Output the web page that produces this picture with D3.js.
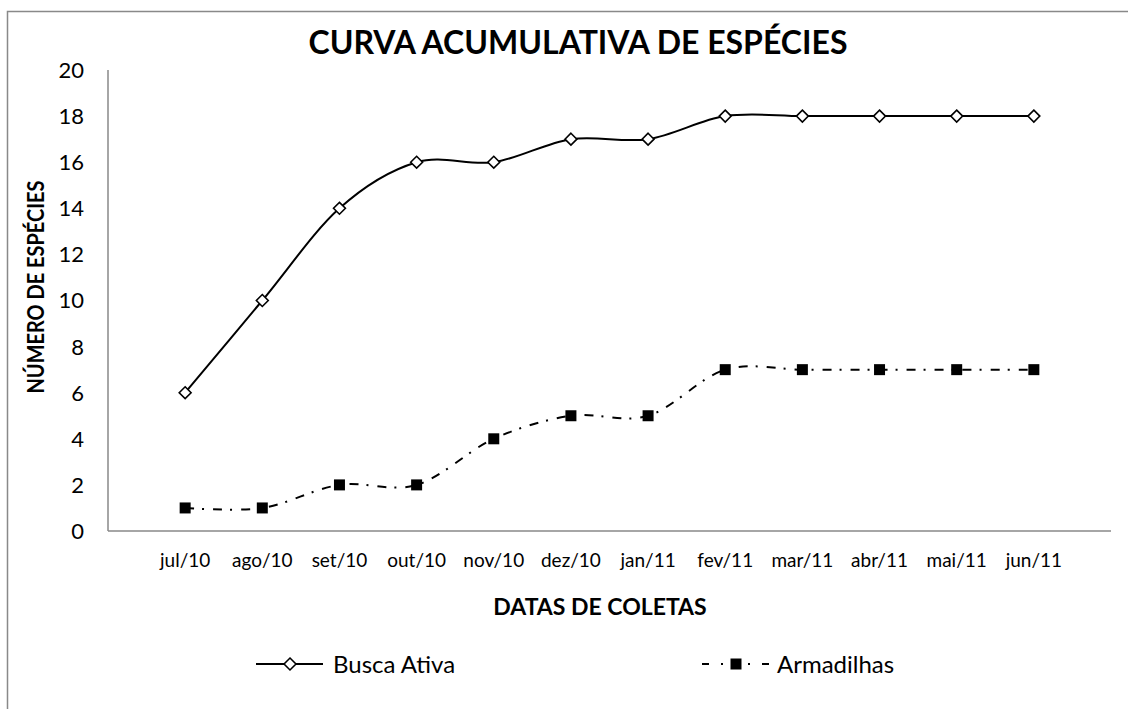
<!DOCTYPE html>
<html lang="pt">
<head>
    <meta charset="UTF-8">
    <title>Curva acumulativa de espécies</title>
    <script src="https://cdn.jsdelivr.net/npm/d3@7"></script>
    <style>
        body { margin: 0; background: #fff; }
        text { font-family: Lato, "Open Sans", sans-serif; fill: #000; }
    </style>
</head>
<body>
<div id="myDiv"></div>
<script>

    // data
    const months = ["jul/10", "ago/10", "set/10", "out/10", "nov/10", "dez/10",
                    "jan/11", "fev/11", "mar/11", "abr/11", "mai/11", "jun/11"];
    const buscaAtiva = [6, 10, 14, 16, 16, 17, 17, 18, 18, 18, 18, 18];
    const armadilhas = [1, 1, 2, 2, 4, 5, 5, 7, 7, 7, 7, 7];
    const yTicks = [0, 2, 4, 6, 8, 10, 12, 14, 16, 18, 20];

    const W = 1128, H = 709;
    const svg = d3.select("#myDiv").append("svg")
        .attr("width", W)
        .attr("height", H);

    // outer chart border (runs off the right / bottom edge)
    svg.append("rect")
        .attr("x", 7.5).attr("y", 11.5)
        .attr("width", W + 20).attr("height", H + 20)
        .attr("fill", "none")
        .attr("stroke", "#898989")
        .attr("stroke-width", 1.5);

    const plotLeft = 108, plotRight = 1111, plotTop = 70, plotBottom = 531;

    // categories sit between tick marks, one empty slot each side
    const x = d3.scaleLinear().domain([-1, months.length]).range([plotLeft, plotRight]);
    const y = d3.scaleLinear().domain([0, 20]).range([plotBottom, plotTop]);

    // axes
    svg.append("line")
        .attr("x1", plotLeft).attr("x2", plotLeft)
        .attr("y1", plotTop).attr("y2", plotBottom)
        .attr("stroke", "#898989").attr("stroke-width", 1.5);
    svg.append("line")
        .attr("x1", plotLeft).attr("x2", plotRight)
        .attr("y1", plotBottom).attr("y2", plotBottom)
        .attr("stroke", "#898989").attr("stroke-width", 1.5);

    svg.selectAll(".ytick")
        .data(yTicks)
        .enter()
        .append("text")
        .attr("class", "ytick")
        .attr("x", 84)
        .attr("y", d => y(d))
        .attr("dy", "0.36em")
        .attr("text-anchor", "end")
        .style("font-size", "22px")
        .text(d => d);

    svg.selectAll(".xtick")
        .data(months)
        .enter()
        .append("text")
        .attr("class", "xtick")
        .attr("x", (d, i) => x(i))
        .attr("y", 560)
        .attr("dy", "0.36em")
        .attr("text-anchor", "middle")
        .style("font-size", "19px")
        .text(d => d);

    // titles
    svg.append("text")
        .attr("x", 578).attr("y", 42)
        .attr("dy", "0.36em")
        .attr("text-anchor", "middle")
        .style("font-size", "32px")
        .style("font-weight", "bold")
        .text("CURVA ACUMULATIVA DE ESPÉCIES");

    svg.append("text")
        .attr("x", 600).attr("y", 607)
        .attr("dy", "0.36em")
        .attr("text-anchor", "middle")
        .style("font-size", "23px")
        .style("font-weight", "bold")
        .text("DATAS DE COLETAS");

    svg.append("text")
        .attr("transform", "translate(36,287) rotate(-90)")
        .attr("dy", "0.36em")
        .attr("text-anchor", "middle")
        .attr("textLength", 213)
        .attr("lengthAdjust", "spacingAndGlyphs")
        .style("font-size", "22px")
        .style("font-weight", "bold")
        .text("NÚMERO DE ESPÉCIES");

    // lines
    const line = d3.line()
        .x((d, i) => x(i))
        .y(d => y(d))
        .curve(d3.curveCatmullRom.alpha(0));

    svg.append("path")
        .datum(buscaAtiva)
        .attr("d", line)
        .attr("fill", "none")
        .attr("stroke", "#000")
        .attr("stroke-width", 2);

    svg.append("path")
        .datum(armadilhas)
        .attr("d", line)
        .attr("fill", "none")
        .attr("stroke", "#000")
        .attr("stroke-width", 2)
        .attr("stroke-dasharray", "9,8,2,9");

    const diamond = d3.symbol().type(d3.symbolDiamond2).size(90);
    const square = d3.symbol().type(d3.symbolSquare).size(121);

    svg.selectAll(".diamond")
        .data(buscaAtiva)
        .enter()
        .append("path")
        .attr("class", "diamond")
        .attr("d", diamond)
        .attr("transform", (d, i) => "translate(" + x(i) + "," + y(d) + ")")
        .attr("fill", "#fff")
        .attr("stroke", "#000")
        .attr("stroke-width", 1.6);

    svg.selectAll(".square")
        .data(armadilhas)
        .enter()
        .append("path")
        .attr("class", "square")
        .attr("d", square)
        .attr("transform", (d, i) => "translate(" + x(i) + "," + y(d) + ")")
        .attr("fill", "#000");

    // legend
    const legY = 664;
    svg.append("line")
        .attr("x1", 256).attr("x2", 323)
        .attr("y1", legY).attr("y2", legY)
        .attr("stroke", "#000").attr("stroke-width", 2);
    svg.append("path")
        .attr("d", diamond)
        .attr("transform", "translate(290," + legY + ")")
        .attr("fill", "#fff").attr("stroke", "#000").attr("stroke-width", 1.6);
    svg.append("text")
        .attr("x", 333).attr("y", legY)
        .attr("dy", "0.36em")
        .style("font-size", "24px")
        .text("Busca Ativa");

    // dash-dot sample drawn outwards from the marker on both sides
    [[702, 730], [769, 742]].forEach(function(seg) {
        svg.append("line")
            .attr("x1", seg[0]).attr("x2", seg[1])
            .attr("y1", legY).attr("y2", legY)
            .attr("stroke", "#000").attr("stroke-width", 2)
            .attr("stroke-dasharray", "7,12,2,20");
    });
    svg.append("path")
        .attr("d", square)
        .attr("transform", "translate(736," + legY + ")")
        .attr("fill", "#000");
    svg.append("text")
        .attr("x", 777).attr("y", legY)
        .attr("dy", "0.36em")
        .style("font-size", "24px")
        .text("Armadilhas");
</script>

</body>
</html>
